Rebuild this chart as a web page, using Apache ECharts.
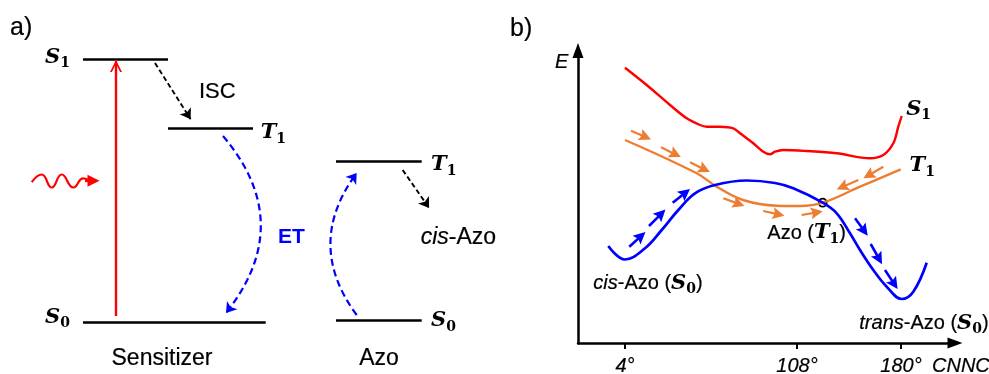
<!DOCTYPE html>
<html><head><meta charset="utf-8">
<script src="https://cdn.jsdelivr.net/npm/echarts@6/dist/echarts.min.js"></script>
<style>html,body{margin:0;padding:0;background:#fff}#c{width:989px;height:374px}</style>
</head><body><div id="c"></div>
<script>
// ================= DATA (schematic coordinates) =================
// ---- Panel a) : Jablonski diagram, x = horizontal position, y = energy ----
const levelsA = [            // [xStart, xEnd, energy]
  [83, 168, 314.7],          // sensitizer S1
  [168, 253, 245.7],         // sensitizer T1
  [83, 265.7, 51.7],         // sensitizer S0
  [336, 421.7, 212.3],       // Azo T1
  [336, 421.7, 54]           // Azo S0
];
const excitationShaft = [[116, 58], [116, 314]];
const excitationHead  = [[116, 58], [116, 308]];
const photonWave = [[31.7,191.8],[41.7,199.5],[51.7,186.5],[61.7,199.5],[73.3,186.5],[83.3,195.7],[90,193.3]];
const photonHead = [[85,193.3],[93.5,193.3]];
const blackDashedArrows = [ [[155,311],[190.6,254.8]], [[402.7,204],[429.1,166]] ];
const etArcs = [ [[223,238],[226,61]], [[356.7,59],[356.7,201]] ];
const etCurveness = [0.41, 0.37];
const textsA = [
  [10, 345.5, '{big|a)}', 'left'],
  [45, 316.5, '{m|S}{s|1}', 'left'],
  [260.7, 241, '{m|T}{s|1}', 'left'],
  [45, 56.5, '{m|S}{s|0}', 'left'],
  [431, 209, '{m|T}{s|1}', 'left'],
  [431, 53, '{m|S}{s|0}', 'left'],
  [199, 282, '{isc|ISC}', 'left'],
  [278, 136.5, '{et|ET}', 'left'],
  [162, 15, '{t23|Sensitizer}', 'center'],
  [379, 15, '{t23|Azo}', 'center'],
  [420.7, 136, '{ti23|cis}{t23|-Azo}', 'left']
];

// ---- Panel b) : potential energy curves, x = CNNC angle (schematic), y = E ----
const xTicks = [47, 219, 323];
const xTickLabels = ['4°', '108°', '180°'];
const curveS1 = [[47,275.3],[68.7,258],[92,238],[108.7,224.7],[122,218],[128.7,216.3],[142,216.3],[155.3,214.7],[162,209.7],[175.3,199.7],[185.3,191.3],[192,188.7],[197,191.3],[205.3,193],[228.7,192],[258.7,189.7],[292,184.7],[305.3,188],[315.3,199.7],[320.3,216.3],[323.7,227]];
const curveT1 = [[47,203],[118.7,169.7],[138.7,156.3],[165,143],[198.7,137.3],[222,137],[244.7,140.3],[282,156.3],[322.7,173.7]];
const curveS0 = [[30.3,97],[47,83.5],[67,94.7],[83.7,113],[100.3,133],[117,149.7],[137,158],[168.7,162.5],[197,160],[215.3,154.7],[244.7,140.3],[258.7,129.7],[272,109.7],[282,93],[295.3,73],[308.7,56.3],[323.7,44],[335.3,51.3],[348.7,80.3]];
const crossing = [244.7, 140.3];
const orangeArrows = [
  [[53,212.3],[67.5,206]], [[83,195.7],[97.5,188.6]], [[112,180.7],[126.5,173.6]],
  [[145.3,144.7],[160.8,139.1]], [[185.3,132],[200.6,128.6]], [[223.7,128],[238.8,130.7]],
  [[305.3,176.3],[290.6,167.8]], [[280.3,163],[264.2,156]]
];
const blueArrows = [
  [[51.3,96.3],[63,106.9]], [[71,117],[83.2,129.2]], [[94.7,140.3],[107.3,150.3]],
  [[277,124.7],[286.2,112.2]], [[292.7,99],[301.1,84.1]], [[307,73],[316.3,58.9]]
];
const textsB = [
  [-68, 314, '{big|b)}'],
  [-23, 281, '{ti20|E}'],
  [328.2, 233.3, '{m|S}{s|1}'],
  [331.5, 177, '{m|T}{s|1}'],
  [189.3, 110, '{t20|Azo (}{m|T}{s|1}{t20|)}'],
  [15.3, 59.3, '{ti20|cis}{t20|-Azo (}{m|S}{s|0}{t20|)}'],
  [281.3, 19.3, '{ti20|trans}{t20|-Azo (}{m|S}{s|0}{t20|)}'],
  [354, -23.5, '{ti20|CNNC}']
];

// ================= CHART =================
const SANS = 'Liberation Sans', SERIF = 'DejaVu Serif';
const RED = '#ff0000', ORANGE = '#ed7d31', BLUE = '#0000ff';
const ink = {textBorderColor: '#000', textBorderWidth: 0.2};
const rich = {
  big: Object.assign({fontFamily: SANS, fontSize: 25, lineHeight: 30, color: '#000'}, ink),
  t23: Object.assign({fontFamily: SANS, fontSize: 23, lineHeight: 28, color: '#000'}, ink),
  ti23: Object.assign({fontFamily: SANS, fontSize: 23, lineHeight: 28, color: '#000', fontStyle: 'italic'}, ink),
  t20: Object.assign({fontFamily: SANS, fontSize: 20, lineHeight: 26, color: '#000'}, ink),
  ti20: Object.assign({fontFamily: SANS, fontSize: 20, lineHeight: 26, color: '#000', fontStyle: 'italic'}, ink),
  isc: Object.assign({fontFamily: SANS, fontSize: 22, lineHeight: 26, color: '#000'}, ink),
  et: {fontFamily: SANS, fontSize: 21, lineHeight: 26, color: BLUE, fontWeight: 'bold'},
  m: {fontFamily: SERIF, fontSize: 21, lineHeight: 26, color: '#000', fontStyle: 'italic', fontWeight: 'bold'},
  s: {fontFamily: SERIF, fontSize: 14, lineHeight: 16, color: '#000', fontWeight: 'bold', verticalAlign: 'bottom'}
};
const chevron = 'path://M0,10 L5,0 L10,10 L8.4,10 L5,3.2 L1.6,10 Z';
const headB = 'path://M5,0 L10,11 L5,9 L0,11 Z';
const A = {coordinateSystem: 'cartesian2d', xAxisIndex: 0, yAxisIndex: 0};
const B = {coordinateSystem: 'cartesian2d', xAxisIndex: 1, yAxisIndex: 1};

const chart = echarts.init(document.getElementById('c'), null, {renderer: 'canvas'});
chart.setOption({
  animation: false,
  backgroundColor: '#fff',
  grid: [
    {left: 0, top: 0, width: 500, height: 374, outerBoundsMode: 'none', containLabel: false},
    {left: 578, top: 50.5, width: 377, height: 292.5, outerBoundsMode: 'none', containLabel: false}
  ],
  xAxis: [
    {type: 'value', gridIndex: 0, min: 0, max: 500, show: false},
    {type: 'value', gridIndex: 1, min: 0, max: 377,
     splitLine: {show: false},
     axisLine: {show: true, onZero: false, symbol: ['none', 'triangle'], symbolSize: [11, 15],
                lineStyle: {color: '#000', width: 2.5}},
     axisTick: {show: true, customValues: xTicks, length: 6, inside: false, lineStyle: {color: '#000', width: 2}},
     axisLabel: {show: true, customValues: xTicks, margin: 13,
                 formatter: v => xTickLabels[xTicks.indexOf(v)] || '',
                 fontFamily: SANS, fontSize: 20, fontStyle: 'italic', color: '#000',
                 textBorderColor: '#000', textBorderWidth: 0.2}}
  ],
  yAxis: [
    {type: 'value', gridIndex: 0, min: 0, max: 374, show: false},
    {type: 'value', gridIndex: 1, min: 0, max: 292.5,
     splitLine: {show: false}, axisTick: {show: false}, axisLabel: {show: false},
     axisLine: {show: true, onZero: false, symbol: ['none', 'triangle'], symbolSize: [11, 15],
                lineStyle: {color: '#000', width: 2.5}}}
  ],
  series: [
    // ---------- panel a ----------
    Object.assign({type: 'lines', silent: true, symbol: 'none',
      lineStyle: {color: '#000', width: 2.6, opacity: 1},
      data: levelsA.map(l => ({coords: [[l[0], l[2]], [l[1], l[2]]]}))}, A),
    Object.assign({type: 'lines', silent: true, symbol: 'none',
      lineStyle: {color: RED, width: 2.2, opacity: 1},
      data: [{coords: excitationShaft}]}, A),
    Object.assign({type: 'lines', silent: true, symbol: ['none', chevron], symbolSize: 12,
      lineStyle: {color: RED, width: 2.2, opacity: 1},
      data: [{coords: excitationHead}]}, A),
    Object.assign({type: 'line', silent: true, smooth: 0.5, showSymbol: false,
      lineStyle: {color: RED, width: 2.2}, data: photonWave}, A),
    Object.assign({type: 'lines', silent: true, symbol: ['none', 'triangle'], symbolSize: 12,
      lineStyle: {color: RED, width: 2.2, opacity: 1},
      data: [{coords: photonHead}]}, A),
    Object.assign({type: 'lines', silent: true, symbol: ['none', 'arrow'], symbolSize: 10,
      lineStyle: {color: '#000', width: 1.9, type: [5, 3], opacity: 1},
      data: blackDashedArrows.map(c => ({coords: c}))}, A),
    Object.assign({type: 'lines', silent: true, symbol: ['none', 'arrow'], symbolSize: 10,
      lineStyle: {color: BLUE, width: 2.2, type: [7, 4], opacity: 1},
      data: etArcs.map((c, i) => ({coords: c, lineStyle: {curveness: etCurveness[i]}}))}, A),
    Object.assign({type: 'scatter', silent: true, clip: false, symbolSize: 1,
      itemStyle: {color: 'rgba(0,0,0,0)', opacity: 1},
      label: {show: true, position: 'inside', verticalAlign: 'middle', color: '#000', opacity: 1, rich: rich},
      data: textsA.map(t => ({value: [t[0], t[1]], label: {formatter: t[2], align: t[3]}}))}, A),
    // ---------- panel b ----------
    Object.assign({type: 'line', silent: true, smooth: 0.35, showSymbol: false, clip: false,
      lineStyle: {color: RED, width: 2.4}, data: curveS1}, B),
    Object.assign({type: 'line', silent: true, smooth: 0.4, showSymbol: false, clip: false,
      lineStyle: {color: ORANGE, width: 2.4}, data: curveT1}, B),
    Object.assign({type: 'line', silent: true, smooth: 0.4, showSymbol: false, clip: false,
      lineStyle: {color: BLUE, width: 2.7}, data: curveS0}, B),
    Object.assign({type: 'lines', silent: true, symbol: ['none', headB], symbolSize: 12,
      lineStyle: {color: ORANGE, width: 2.2, opacity: 1},
      data: orangeArrows.map(c => ({coords: c}))}, B),
    Object.assign({type: 'lines', silent: true, symbol: ['none', headB], symbolSize: 12,
      lineStyle: {color: BLUE, width: 2.6, opacity: 1},
      data: blueArrows.map(c => ({coords: c}))}, B),
    Object.assign({type: 'scatter', silent: true, clip: false, symbol: 'circle', symbolSize: 8,
      itemStyle: {color: 'rgba(255,255,255,0)', borderColor: '#000', borderWidth: 1.7, opacity: 1},
      data: [crossing]}, B),
    Object.assign({type: 'scatter', silent: true, clip: false, symbolSize: 1,
      itemStyle: {color: 'rgba(0,0,0,0)', opacity: 1},
      label: {show: true, position: 'inside', verticalAlign: 'middle', align: 'left', color: '#000', opacity: 1, rich: rich},
      data: textsB.map(t => ({value: [t[0], t[1]], label: {formatter: t[2]}}))}, B)
  ]
});
</script></body></html>
